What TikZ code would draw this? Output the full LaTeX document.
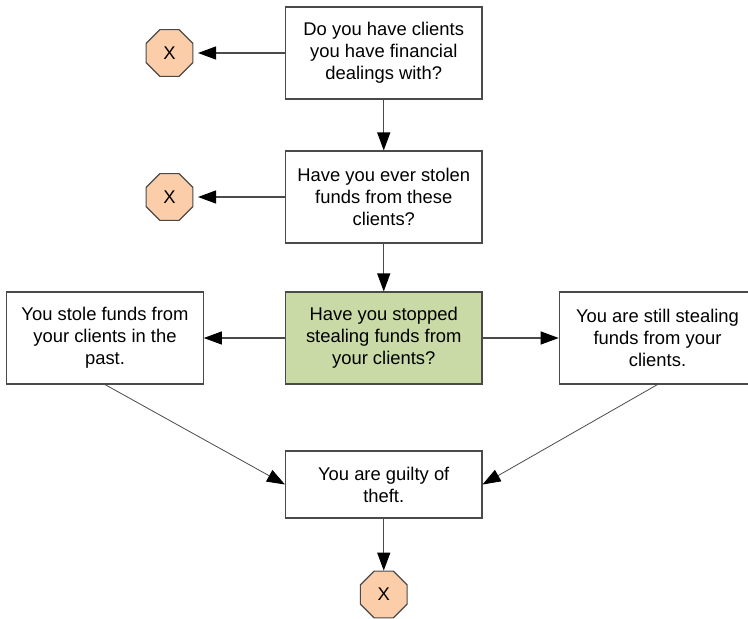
\documentclass[tikz,border=0pt]{standalone}
\usepackage{fontspec}
\setmainfont{Liberation Sans}
\usetikzlibrary{arrows.meta,shapes.geometric}
\definecolor{boxline}{HTML}{4A4A4A}
\definecolor{stopfill}{HTML}{FBCDA8}
\definecolor{askfill}{HTML}{C9DAA6}
\begin{document}
\begin{tikzpicture}[x=1pt, y=-1pt,
	qbox/.style={draw=boxline, fill=white, line width=1.1pt, minimum width=196.5pt, minimum height=92pt, align=center, font=\fontsize{18.4}{22}\selectfont, inner sep=0pt},
	stopsign/.style={regular polygon, regular polygon sides=8, draw=boxline, fill=stopfill, line width=1.1pt, minimum size=50.5pt, inner sep=0pt, font=\fontsize{18.4}{20}\selectfont},
	link/.style={draw=boxline, line width=1.1pt, -{Triangle[length=18pt, width=13pt, color=black]}}]
	\useasboundingbox (0,0) rectangle (748,619);

	\node[qbox] (clients) at (383.75,53) {Do you have clients\\you have financial\\dealings with?};
	\node[qbox] (stolen) at (383.75,197) {Have you ever stolen\\funds from these\\clients?};
	\node[qbox, fill=askfill] (stopped) at (383.75,338) {Have you stopped\\stealing funds from\\your clients?};
	\node[qbox] (past) at (105,338) {You stole funds from\\your clients in the\\past.};
	\node[qbox] (still) at (657.5,338) {You are still stealing\\funds from your\\clients.};
	\node[qbox, minimum height=67pt] (guilty) at (383.75,484.5) {You are guilty of\\theft.};

	\node[stopsign] (stopa) at (169.5,53) {X};
	\node[stopsign] (stopb) at (169.5,197) {X};
	\node[stopsign] (stopc) at (383.75,594.5) {X};

	\coordinate (stopaend) at (198,53);
	\coordinate (stopbend) at (198,197);

	\draw[link] (clients) -- (stopaend);
	\draw[link] (stolen) -- (stopbend);
	\draw[link] (clients) -- (stolen);
	\draw[link] (stolen) -- (stopped);
	\draw[link] (stopped) -- (past);
	\draw[link] (stopped) -- (still);
	\draw[link, line width=0.8pt] (past.south) -- (guilty.west);
	\draw[link, line width=0.8pt] (still.south) -- (guilty.east);
	\draw[link] (guilty) -- (stopc);
\end{tikzpicture}
\end{document}
